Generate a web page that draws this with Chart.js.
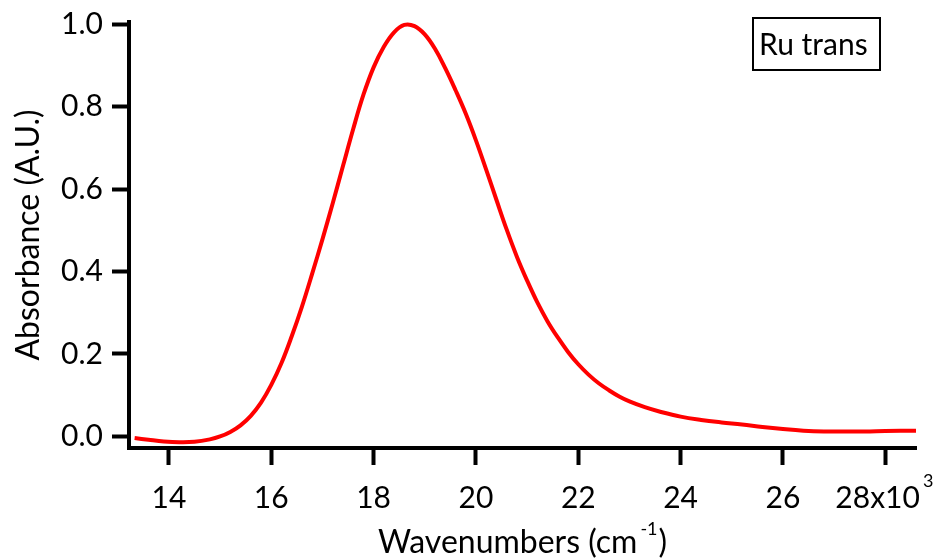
<!DOCTYPE html>
<html lang="en">
<head>
  <meta charset="UTF-8">
  <script src="https://cdn.jsdelivr.net/npm/chart.js"></script>
  <title>Ru trans</title>
  <style>
    html, body { margin: 0; padding: 0; background: #fff; }
  </style>
</head>
<body>
  <canvas id="chart" width="937" height="558"></canvas>
  <script>
    // wavenumbers are in units of 10^3 cm-1
    const wavenumbers = [13.33, 13.6, 13.9, 14.2, 14.5, 14.8, 15.0, 15.2, 15.4, 15.6, 15.8, 16.0,
      16.2, 16.4, 16.6, 16.8, 17.0, 17.2, 17.4, 17.6, 17.8, 18.0, 18.2, 18.4, 18.6, 18.8,
      19.0, 19.2, 19.4, 19.6, 19.8, 20.0, 20.2, 20.4, 20.6, 20.8, 21.0, 21.2, 21.4, 21.6,
      21.8, 22.0, 22.2, 22.4, 22.6, 22.8, 23.0, 23.3, 23.6, 24.0, 24.4, 24.8, 25.2, 25.6,
      26.0, 26.4, 26.8, 27.2, 27.6, 28.0, 28.6];
    const absorbance = [-0.004, -0.008, -0.012, -0.014, -0.013, -0.007, 0.000, 0.011, 0.027, 0.050, 0.082, 0.125,
      0.178, 0.243, 0.315, 0.395, 0.478, 0.565, 0.655, 0.745, 0.828, 0.895, 0.945, 0.980, 0.998, 0.995,
      0.975, 0.940, 0.893, 0.840, 0.783, 0.718, 0.647, 0.574, 0.502, 0.436, 0.378, 0.325, 0.279, 0.240,
      0.205, 0.175, 0.150, 0.129, 0.112, 0.097, 0.085, 0.071, 0.060, 0.048, 0.040, 0.034, 0.029, 0.023,
      0.018, 0.014, 0.012, 0.012, 0.012, 0.013, 0.014];
    const xTicks = [14, 16, 18, 20, 22, 24, 26, 28];
    const yTicks = [0, 0.2, 0.4, 0.6, 0.8, 1.0];
    const seriesLabel = 'Ru trans';
    const xTitle = ['Wavenumbers (cm', '-1', ')'];
    const yTitle = 'Absorbance (A.U.)';

    const FONT = 'Lato';

    // extra text the axes can't do: superscripts and the boxed label
    const extras = {
      id: 'extras',
      afterDraw(chart) {
        const ctx = chart.ctx;
        const area = chart.chartArea;
        const big = '30px ' + FONT;
        const title = '32px ' + FONT;
        const small = '18px ' + FONT;
        ctx.save();
        ctx.fillStyle = '#000';
        ctx.strokeStyle = '#000';
        ctx.textAlign = 'left';
        ctx.textBaseline = 'alphabetic';

        // x axis title with superscript
        ctx.font = title;
        const w1 = ctx.measureText(xTitle[0]).width;
        const w3 = ctx.measureText(xTitle[2]).width;
        ctx.font = small;
        const w2 = ctx.measureText(xTitle[1]).width;
        let x = (area.left + area.right) / 2 - (w1 + w2 + w3 + 4) / 2;
        ctx.font = title;
        ctx.fillText(xTitle[0], x, 553);
        ctx.font = small;
        ctx.fillText(xTitle[1], x + w1 + 3, 535);
        ctx.font = title;
        ctx.fillText(xTitle[2], x + w1 + w2 + 4, 553);

        // x10^3 exponent on last tick
        const xs = chart.scales.x;
        const last = xTicks[xTicks.length - 1];
        const px = xs.getPixelForValue(last);
        ctx.font = big;
        const full = ctx.measureText(last + 'x10  ').width;
        const base = ctx.measureText(last + 'x10').width;
        ctx.font = small;
        ctx.fillText('3', px - full / 2 + base + 3, 487);

        // boxed series label
        ctx.lineWidth = 2;
        ctx.strokeRect(753, 18, 127, 52);
        ctx.font = big;
        ctx.fillText(seriesLabel, 759, 55);
        ctx.restore();
      }
    };

    function draw() {
      const ctx = document.getElementById('chart').getContext('2d');
      new Chart(ctx, {
        type: 'line',
        data: {
          datasets: [{
            label: seriesLabel,
            data: wavenumbers.map((w, i) => ({ x: w, y: absorbance[i] })),
            borderColor: 'rgb(255, 0, 0)',
            borderWidth: 4,
            pointRadius: 0,
            fill: false,
            tension: 0.4
          }]
        },
        options: {
          responsive: false,
          animation: false,
          layout: { padding: { left: 0, top: 22, right: 21, bottom: 0 } },
          plugins: { legend: { display: false }, tooltip: { enabled: false } },
          scales: {
            x: {
              type: 'linear',
              min: 13.22,
              max: 28.6,
              afterBuildTicks: s => { s.ticks = xTicks.map(v => ({ value: v })); },
              afterFit: s => { s.height = 110; s.paddingLeft = 0; s.paddingRight = 0; },
              grid: { drawOnChartArea: false, drawTicks: true, tickLength: 17, tickWidth: 4, tickColor: '#000' },
              border: { display: true, width: 4, color: '#000' },
              ticks: {
                color: '#000',
                font: { family: FONT, size: 30 },
                padding: 15,
                autoSkip: false,
                maxRotation: 0,
                callback: v => v === xTicks[xTicks.length - 1] ? v + 'x10  ' : String(v)
              }
            },
            y: {
              min: -0.028,
              max: 1.005,
              afterBuildTicks: s => { s.ticks = yTicks.map(v => ({ value: v })); },
              afterFit: s => { s.width = 129; s.paddingTop = 0; s.paddingBottom = 0; },
              grid: { drawOnChartArea: false, drawTicks: true, tickLength: 17, tickWidth: 4, tickColor: '#000' },
              border: { display: true, width: 4, color: '#000' },
              title: {
                display: true,
                text: yTitle,
                color: '#000',
                font: { family: FONT, size: 32 },
                padding: { top: 9, bottom: 0 }
              },
              ticks: {
                color: '#000',
                font: { family: FONT, size: 30 },
                padding: 9,
                callback: v => v.toFixed(1)
              }
            }
          }
        },
        plugins: [extras]
      });
    }

    document.fonts.load('30px ' + FONT).then(draw, draw);
  </script>
</body>
</html>
